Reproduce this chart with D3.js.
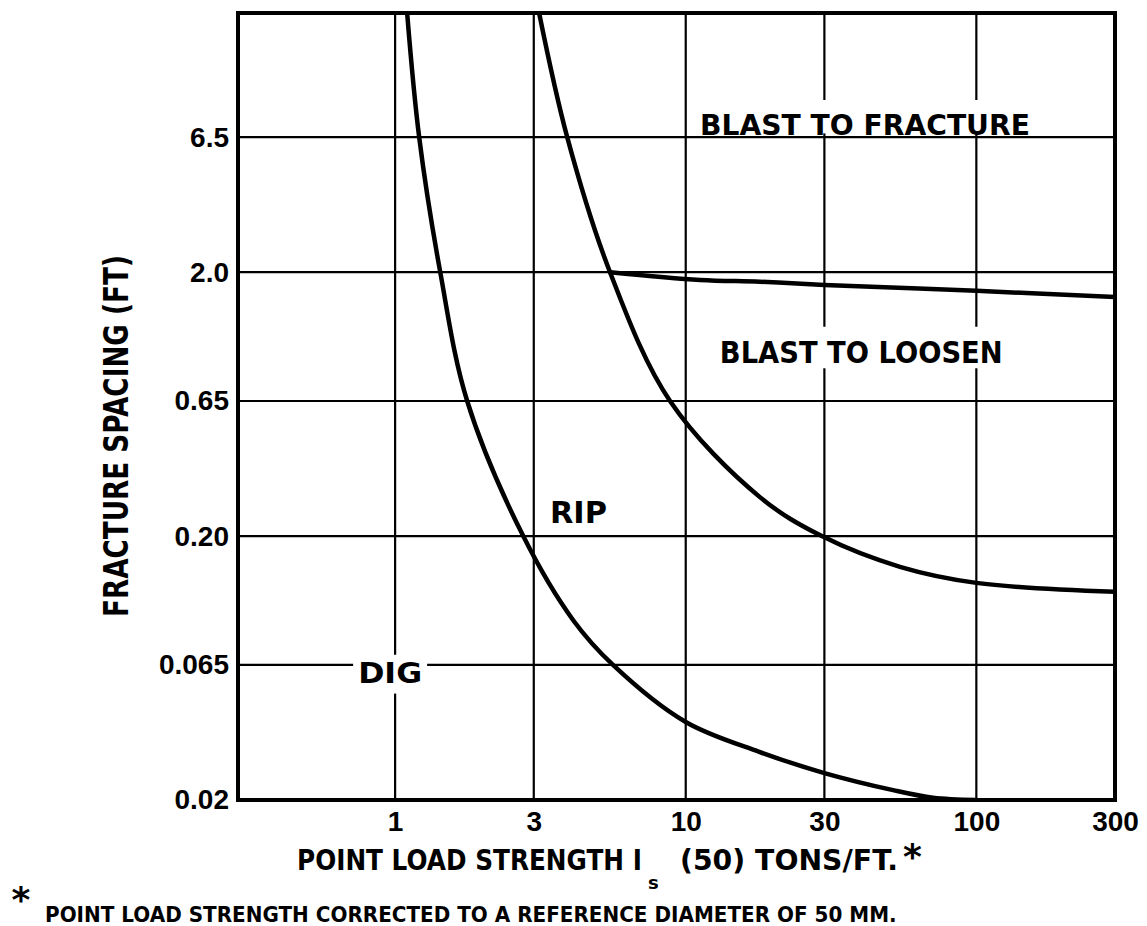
<!DOCTYPE html>
<html lang="en">
<head>
<meta charset="UTF-8">
<title>Fracture spacing vs point load strength</title>
<script src="https://d3js.org/d3.v7.min.js"></script>
<style>
  body { margin: 0; background: #fff; }
  svg { display: block; font-family: "DejaVu Sans", "Liberation Sans", sans-serif; }
  .tick text { font-size: 28px; font-weight: bold; fill: #000; }
  .grid line { stroke: #000; stroke-width: 2.2; }
  .curve { fill: none; stroke: #000; stroke-width: 4.5; stroke-linejoin: round; stroke-linecap: round; }
  .zone { font-weight: bold; fill: #000; }
  .title { font-weight: bold; fill: #000; }
</style>
</head>
<body>
<svg id="chart" width="1147" height="926"></svg>
<script>
const xTicks = [1, 3, 10, 30, 100, 300];
const yTicks = [0.02, 0.065, 0.2, 0.65, 2.0, 6.5];
const yTickLabels = ["0.02", "0.065", "0.20", "0.65", "2.0", "6.5"];

// dig / rip boundary
const digRipX = [1.10, 1.21, 1.43, 1.77, 2.76, 4.10, 5.62, 10, 18, 30, 51.7, 70.9, 100];
const digRipY = [19.2, 6.5, 2.0, 0.65, 0.20, 0.096, 0.065, 0.0395, 0.0304, 0.0253, 0.0218, 0.0204, 0.02];

// rip / blast to loosen boundary
const ripBlastX = [3.13, 3.91, 5.49, 8.83, 18, 29.4, 54.6, 100, 300];
const ripBlastY = [19.2, 6.5, 2.0, 0.65, 0.281, 0.20, 0.153, 0.133, 0.123];

// blast to loosen / blast to fracture boundary
const fractureX = [5.49, 11.2, 18, 30, 100, 300];
const fractureY = [2.0, 1.87, 1.84, 1.79, 1.70, 1.61];

// zone names and where they sit (left end, baseline) in data units
const zoneNames = ["BLAST TO FRACTURE", "BLAST TO LOOSEN", "RIP", "DIG"];
const zoneX = [11.2, 13.1, 3.41, 0.746];
const zoneY = [6.6, 0.906, 0.224, 0.0555];

const svg = d3.select("#chart");
const plotLeft = 238, plotRight = 1115, plotTop = 13, plotBottom = 800;

const x = d3.scaleLog().domain([0.288, 300]).range([plotLeft, plotRight]);
const y = d3.scaleLog().domain([0.02, 19.2]).range([plotBottom, plotTop]);

// squeeze a text horizontally so it spans the given width
function fitText(sel, px, py, width, extra = "") {
  const w = sel.node().getComputedTextLength();
  sel.attr("x", 0).attr("y", 0)
    .attr("transform", `translate(${px},${py}) ${extra} scale(${width / w},1)`);
  return sel;
}

svg.append("clipPath").attr("id", "plot")
  .append("rect")
  .attr("x", plotLeft).attr("y", plotTop)
  .attr("width", plotRight - plotLeft).attr("height", plotBottom - plotTop);

// grid
const grid = svg.append("g").attr("class", "grid");
grid.selectAll(".v").data(xTicks).join("line")
  .attr("class", "v")
  .attr("x1", d => x(d)).attr("x2", d => x(d))
  .attr("y1", plotTop).attr("y2", plotBottom);
grid.selectAll(".h").data(yTicks).join("line")
  .attr("class", "h")
  .attr("x1", plotLeft).attr("x2", plotRight)
  .attr("y1", d => y(d)).attr("y2", d => y(d));

// axes (labels only, frame drawn separately)
svg.append("g")
  .attr("transform", `translate(0,${plotBottom})`)
  .call(d3.axisBottom(x).tickValues(xTicks).tickFormat(d3.format("d")).tickSize(0).tickPadding(11))
  .call(g => g.select(".domain").remove());

svg.append("g")
  .attr("transform", `translate(${plotLeft},0)`)
  .call(d3.axisLeft(y).tickValues(yTicks).tickFormat((d, i) => yTickLabels[i]).tickSize(0).tickPadding(9))
  .call(g => g.select(".domain").remove());

// zone labels with white boxes behind them
const zoneWidth = [330, 283, 57, 64];
const zoneSize = [29, 30, 31, 28];
const boxLayer = svg.append("g");
const curveLayer = svg.append("g").attr("clip-path", "url(#plot)");
const textLayer = svg.append("g");

zoneNames.forEach((name, i) => {
  const px = x(zoneX[i]), py = y(zoneY[i]);
  const t = textLayer.append("text")
    .attr("class", "zone")
    .attr("font-size", zoneSize[i])
    .text(name);
  fitText(t, px, py, zoneWidth[i]);
  const b = t.node().getBBox();
  const by = py + b.y - (i < 2 ? 8 : 2);
  const bh = i === 0 ? py - 2 - by : b.height + 6;
  boxLayer.append("rect")
    .attr("x", px - 5).attr("y", by)
    .attr("width", zoneWidth[i] + 10).attr("height", bh)
    .attr("fill", "#fff");
});

// boundaries
const line = d3.line()
  .x(d => x(d[0]))
  .y(d => y(d[1]))
  .curve(d3.curveCatmullRom.alpha(0.5));

[[digRipX, digRipY], [ripBlastX, ripBlastY], [fractureX, fractureY]].forEach(([xs, ys]) => {
  curveLayer.append("path")
    .attr("class", "curve")
    .attr("d", line(d3.zip(xs, ys)));
});

// frame
svg.append("rect")
  .attr("x", plotLeft).attr("y", plotTop)
  .attr("width", plotRight - plotLeft).attr("height", plotBottom - plotTop)
  .attr("fill", "none").attr("stroke", "#000").attr("stroke-width", 4);

// axis titles
fitText(svg.append("text")
  .attr("class", "title")
  .attr("text-anchor", "middle")
  .attr("font-size", 34)
  .text("FRACTURE SPACING (FT)"), 128, 436, 362, "rotate(-90)");

fitText(svg.append("text")
  .attr("class", "title")
  .attr("font-size", 29)
  .text("POINT LOAD STRENGTH I"), 297, 870, 345);
svg.append("text")
  .attr("class", "title")
  .attr("x", 648).attr("y", 889)
  .attr("font-size", 18)
  .text("s");
fitText(svg.append("text")
  .attr("class", "title")
  .attr("font-size", 29)
  .text("(50) TONS/FT."), 680, 870, 218);
svg.append("text")
  .attr("class", "title")
  .attr("x", 903).attr("y", 869)
  .attr("font-size", 36)
  .text("*");

// footnote
svg.append("text")
  .attr("class", "title")
  .attr("x", 21).attr("y", 912)
  .attr("text-anchor", "middle")
  .attr("font-size", 36)
  .text("*");
fitText(svg.append("text")
  .attr("class", "title")
  .attr("font-size", 21)
  .text("POINT LOAD STRENGTH CORRECTED TO A REFERENCE DIAMETER OF 50 MM."), 45, 922, 852);
</script>
</body>
</html>
